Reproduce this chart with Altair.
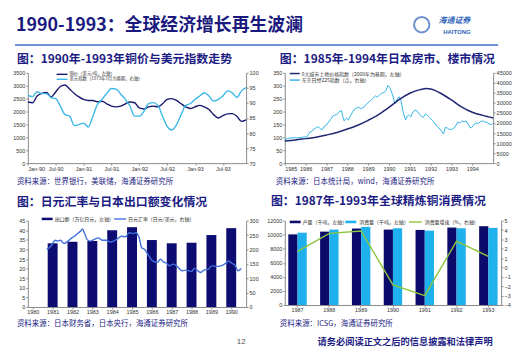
import json
import altair as alt
import pandas as pd

NAVY = "#1c1c84"
CJK = "Noto Sans CJK SC"
AXF = "Liberation Sans"

# ---------------- page texts ----------------
header_title = "1990-1993：全球经济增长再生波澜"
logo_cn = "海通证券"
logo_en = "HAITONG"
page_no = "12"
disclaimer = "请务必阅读正文之后的信息披露和法律声明"

# ---------------- panel 1 ----------------
p1_title = "图：1990年-1993年铜价与美元指数走势"
p1_source = "资料来源：世界银行，美联储，海通证券研究所"
p1_series = ["铜价（美元/吨，左轴）", "美元指数（1973年3月为基期，右轴）"]
p1_ticks = ["Jan-90", "Jul-90", "Jan-91", "Jul-91", "Jan-92", "Jul-92", "Jan-93", "Jul-93"]
copper = [2370, 2340, 2600, 2700, 2740, 2570, 2760, 2970, 3030, 2870, 2700, 2570,
          2470, 2430, 2430, 2380, 2400, 2300, 2210, 2180, 2210, 2300, 2370, 2340,
          2140, 2100, 2180, 2210, 2180, 2300, 2470, 2500, 2430, 2300, 2180, 2120,
          2180, 2240, 2180, 2080, 1880, 1750, 1840, 1910, 1920, 1820, 1620, 1680]
dollar_index = [92.5, 92.1, 93.7, 93.1, 93.1, 91.8, 91.4, 88.9, 86.1, 85.6, 82.5, 82.8,
                83.3, 82.0, 85.6, 89.5, 91.2, 93.2, 94.8, 94.6, 92.9, 91.2, 88.9, 85.6,
                85.6, 87.2, 89.8, 90.1, 89.2, 85.6, 82.2, 81.0, 82.7, 86.1, 89.2, 89.8,
                91.2, 92.3, 93.4, 92.3, 90.6, 91.2, 92.3, 94.0, 93.4, 91.8, 94.0, 95.1]

# ---------------- panel 2 ----------------
p2_title = "图：1985年-1994年日本房市、楼市情况"
p2_source = "资料来源：日本统计局，wind，海通证券研究所"
p2_series = ["6大城市土地价格指数（2000年为基期，左轴）", "东京日经225指数（点，右轴）"]
land_year = [1985.0, 1985.5, 1986.0, 1986.5, 1987.0, 1987.5, 1988.0, 1988.5, 1989.0, 1989.5,
             1990.0, 1990.5, 1991.0, 1991.5, 1991.8, 1992.0, 1992.5, 1993.0, 1993.5, 1994.0,
             1994.5, 1995.0]
land_index = [86, 90, 95, 100, 109, 119, 132, 147, 166, 188,
              216, 247, 271, 285, 289, 287, 270, 245, 217, 197,
              185, 175]
nikkei_pts = [
    (1985.0, 11800), (1985.15, 12300), (1985.3, 12500), (1985.45, 12700), (1985.6, 12600),
    (1985.75, 12800), (1985.9, 13000), (1986.0, 13100), (1986.1, 13600), (1986.2, 15500),
    (1986.3, 15800), (1986.4, 17000), (1986.5, 17600), (1986.6, 18200), (1986.7, 17200),
    (1986.8, 16700), (1986.9, 18500), (1987.0, 18900), (1987.1, 20500), (1987.2, 21800),
    (1987.3, 23500), (1987.4, 24000), (1987.5, 24200), (1987.6, 25500), (1987.72, 26200),
    (1987.8, 22500), (1987.85, 21000), (1987.95, 22500), (1988.05, 21500), (1988.15, 23500),
    (1988.25, 25500), (1988.35, 27000), (1988.45, 27500), (1988.55, 27800), (1988.65, 27200),
    (1988.75, 27600), (1988.85, 28500), (1988.95, 29800), (1989.05, 30500), (1989.15, 31500),
    (1989.25, 32500), (1989.35, 33500), (1989.45, 33000), (1989.55, 34000), (1989.65, 34800),
    (1989.75, 35200), (1989.85, 36000), (1989.95, 38700), (1990.05, 37500), (1990.12, 35500),
    (1990.2, 33000), (1990.28, 29500), (1990.35, 30500), (1990.42, 32500), (1990.5, 33000),
    (1990.58, 31000), (1990.65, 27000), (1990.72, 24000), (1990.8, 21500), (1990.88, 23500),
    (1990.95, 24000), (1991.05, 23000), (1991.15, 25500), (1991.25, 26500), (1991.35, 26000),
    (1991.45, 24500), (1991.55, 23500), (1991.65, 22800), (1991.75, 24500), (1991.85, 23800),
    (1991.95, 22800), (1992.05, 21500), (1992.15, 20500), (1992.25, 19000), (1992.35, 17800),
    (1992.45, 17000), (1992.55, 15500), (1992.62, 14600), (1992.7, 17800), (1992.8, 17500),
    (1992.9, 16800), (1993.0, 16800), (1993.1, 17200), (1993.2, 18500), (1993.3, 20500),
    (1993.4, 20000), (1993.5, 21000), (1993.6, 20500), (1993.7, 21000), (1993.8, 19500),
    (1993.9, 17500), (1994.0, 18000), (1994.1, 19500), (1994.2, 20000), (1994.3, 19800),
    (1994.4, 20800), (1994.5, 21000), (1994.6, 20500), (1994.7, 20300), (1994.8, 19600),
    (1994.9, 19200), (1994.98, 19800)]
nikkei_year = [p[0] for p in nikkei_pts]
nikkei_value = [p[1] for p in nikkei_pts]

# ---------------- panel 3 ----------------
p3_title = "图：日元汇率与日本出口额变化情况"
p3_source = "资料来源：日本财务省，日本央行，海通证券研究所"
p3_series = ["出口额（万亿日元，左轴）", "日元汇率（日元/美元，右轴）"]
export_year = [1981, 1982, 1983, 1984, 1985, 1986, 1987, 1988, 1989, 1990]
exports = [33.2, 34.0, 34.4, 40.0, 41.6, 34.9, 33.2, 33.5, 37.5, 41.1]
yen_pts = [
    (1980.7, 200), (1980.9, 210), (1981.13, 232), (1981.25, 229), (1981.4, 232), (1981.57, 221),
    (1981.72, 226), (1981.96, 240), (1982.1, 246), (1982.2, 252), (1982.4, 263), (1982.5, 271),
    (1982.6, 258), (1982.73, 235), (1982.9, 229), (1983.1, 235), (1983.3, 240), (1983.5, 232),
    (1983.7, 232), (1983.9, 226), (1984.07, 229), (1984.26, 237), (1984.47, 246), (1984.66, 244),
    (1984.86, 258), (1985.05, 255), (1985.2, 258), (1985.35, 243), (1985.49, 206), (1985.64, 200),
    (1985.8, 183), (1986.03, 160), (1986.27, 155), (1986.43, 166), (1986.58, 157), (1986.74, 152),
    (1986.9, 143), (1987.05, 149), (1987.21, 145), (1987.37, 134), (1987.52, 126), (1987.76, 128),
    (1987.99, 123), (1988.15, 134), (1988.31, 126), (1988.46, 120), (1988.62, 128), (1988.86, 132),
    (1989.01, 143), (1989.25, 141), (1989.48, 143), (1989.72, 152), (1989.87, 160), (1990.03, 152),
    (1990.19, 145), (1990.34, 126), (1990.5, 134)]
yen_year = [p[0] for p in yen_pts]
yen_rate = [p[1] for p in yen_pts]

# ---------------- panel 4 ----------------
p4_title = "图：1987年-1993年全球精炼铜消费情况"
p4_source = "资料来源：ICSG，海通证券研究所"
p4_series = ["产量（千吨，左轴）", "消费量（千吨，左轴）", "消费量增速（%，右轴）"]
years4 = ["1987", "1988", "1989", "1990", "1991", "1992", "1993"]
production = [10050, 10440, 10880, 10730, 10680, 11020, 11210]
consumption = [10290, 10730, 11120, 10920, 10580, 10920, 10970]
growth = [1.72, 3.65, 3.9, -1.86, -3.0, 2.81, 1.18]


# ---------------- helpers for decorations ----------------
def txt(s, x, y, size, color=NAVY, weight="normal", align="left", font=CJK, style="normal"):
    return alt.Chart(pd.DataFrame({"t": [s]})).mark_text(
        align=align, baseline="middle", fontSize=size, font=font,
        fontWeight=weight, color=color, fontStyle=style
    ).encode(text="t:N", x=alt.value(x), y=alt.value(y))


def hline(x1, x2, y, color, width):
    return alt.Chart(pd.DataFrame({"a": [0]})).mark_rule(color=color, strokeWidth=width).encode(
        x=alt.value(x1), x2=alt.value(x2), y=alt.value(y))


def box(x1, x2, y1, y2, color, opacity=1.0):
    return alt.Chart(pd.DataFrame({"a": [0]})).mark_rect(color=color, opacity=opacity).encode(
        x=alt.value(x1), x2=alt.value(x2), y=alt.value(y1), y2=alt.value(y2))


LEG = 5
LEGC = "#333333"

# ---------------- panel 1 chart ----------------
df1 = pd.DataFrame({"m": list(range(len(copper))), "copper": copper, "dollar": dollar_index})
x1 = alt.X("m:Q", scale=alt.Scale(domain=[0, 47], nice=False),
           axis=alt.Axis(values=[0, 6, 12, 18, 24, 30, 36, 42],
                         labelExpr=json.dumps(p1_ticks) + "[datum.value / 6]"))
c1a = alt.Chart(df1).mark_line(color="#17176f", strokeWidth=1.4, interpolate="monotone").encode(
    x=x1,
    y=alt.Y("copper:Q", scale=alt.Scale(domain=[0, 3500], nice=False),
            axis=alt.Axis(values=list(range(0, 3501, 500)), orient="left", format="d")))
c1b = alt.Chart(df1).mark_line(color="#3cb8e6", strokeWidth=1.4, interpolate="monotone").encode(
    x=x1,
    y=alt.Y("dollar:Q", scale=alt.Scale(domain=[70, 100], nice=False),
            axis=alt.Axis(values=list(range(70, 101, 5)), orient="right", format="d")))
p1 = alt.layer(
    c1a, c1b,
    hline(29, 40, 1.5, "#17176f", 1.4), txt(p1_series[0], 42, 1.5, 4.4, LEGC),
    hline(29, 40, 6.5, "#3cb8e6", 1.4), txt(p1_series[1], 42, 6.5, 4.4, LEGC),
    txt(p1_title, -11, -14, 12, NAVY, "bold"),
    txt(p1_source, -11, 110, 7.5, NAVY),
    # page header
    txt(header_title, -12, -47, 18, "#1a1a7e", "bold"),
    hline(-13, 474, -28, "#3a6fc4", 1.5),
    alt.Chart(pd.DataFrame({"a": [0]})).mark_point(shape="circle", size=240, filled=False,
                                                   color="#2f63b8", strokeWidth=2).encode(
        x=alt.value(397), y=alt.value(-48.5)),
    txt(logo_cn, 414, -52, 8, "#2f63b8", "bold", style="italic"),
    txt(logo_en, 432.5, -41, 6, "#2f63b8", "bold", align="center", font=AXF),
    box(-20, -19, -64, -63, "white", 0.0),
).resolve_scale(y="independent").properties(width=220, height=91)

# ---------------- panel 2 chart ----------------
df2a = pd.DataFrame({"year": land_year, "land": land_index})
df2b = pd.DataFrame({"year": nikkei_year, "nikkei": nikkei_value})
x2 = alt.X("year:Q", scale=alt.Scale(domain=[1985, 1995], nice=False),
           axis=alt.Axis(values=list(range(1985, 1995)), format="d"))
c2a = alt.Chart(df2a).mark_line(color="#1f2670", strokeWidth=1.5, interpolate="monotone").encode(
    x=x2,
    y=alt.Y("land:Q", scale=alt.Scale(domain=[0, 350], nice=False),
            axis=alt.Axis(values=list(range(0, 351, 50)), orient="left", format="d")))
c2b = alt.Chart(df2b).mark_line(color="#35b5e8", strokeWidth=1.0).encode(
    x=x2,
    y=alt.Y("nikkei:Q", scale=alt.Scale(domain=[0, 45000], nice=False),
            axis=alt.Axis(values=list(range(0, 45001, 5000)), orient="right", format="d")))
p2 = alt.layer(
    c2b, c2a,
    hline(5, 15, 0.7, "#1f2670", 1.5), txt(p2_series[0], 17, 0.7, LEG, LEGC),
    hline(5, 15, 7.3, "#35b5e8", 1.5), txt(p2_series[1], 17, 7.3, LEG, LEGC),
    txt(p2_title, -5, -14, 12, NAVY, "bold"),
    txt(p2_source, -9, 110, 7.5, NAVY),
).resolve_scale(y="independent").properties(width=210, height=91)

# ---------------- panel 3 chart ----------------
df3a = pd.DataFrame({"year": export_year, "exports": exports})
df3b = pd.DataFrame({"year": yen_year, "yen": yen_rate})
x3 = alt.X("year:Q", scale=alt.Scale(domain=[1980, 1990.5], nice=False),
           axis=alt.Axis(values=list(range(1980, 1991)), format="d"))
c3a = alt.Chart(df3a).mark_bar(size=10, color="#0c0c72").encode(
    x=x3,
    y=alt.Y("exports:Q", scale=alt.Scale(domain=[0, 45], nice=False),
            axis=alt.Axis(values=list(range(0, 46, 5)), orient="left", format="d")))
c3b = alt.Chart(df3b).mark_line(color="#3f6fdc", strokeWidth=1.4, interpolate="monotone").encode(
    x=x3,
    y=alt.Y("yen:Q", scale=alt.Scale(domain=[0, 300], nice=False),
            axis=alt.Axis(values=list(range(0, 301, 50)), orient="right", format="d")))
p3 = alt.layer(
    c3a, c3b,
    box(14, 25, -3, -0.5, "#0c0c72"), txt(p3_series[0], 27, -1.7, LEG, LEGC),
    hline(87, 99, -1.7, "#3f6fdc", 1.4), txt(p3_series[1], 101, -1.7, LEG, LEGC),
    txt(p3_title, -11, -19, 12, NAVY, "bold"),
    txt(p3_source, -11, 104, 7.5, NAVY),
    # page footer
    txt(page_no, 215, 122, 8, "#555555", font=AXF, align="center"),
    txt(disclaimer, 292, 122, 9.3, NAVY, "bold"),
).resolve_scale(y="independent").properties(width=220, height=87)

# ---------------- panel 4 chart ----------------
df4a = pd.DataFrame({
    "year": years4 * 2,
    "series": [p4_series[0]] * len(years4) + [p4_series[1]] * len(years4),
    "value": production + consumption,
})
df4b = pd.DataFrame({"year": years4, "growth": growth})
x4 = alt.X("year:N", sort=years4, scale=alt.Scale(paddingInner=0.42, paddingOuter=0.11),
           axis=alt.Axis(labelAngle=0))
c4a = alt.Chart(df4a).mark_bar().encode(
    x=x4,
    xOffset=alt.XOffset("series:N", sort=p4_series[:2], scale=alt.Scale(paddingInner=0, paddingOuter=0)),
    y=alt.Y("value:Q", scale=alt.Scale(domain=[0, 12000], nice=False),
            axis=alt.Axis(values=list(range(0, 12001, 2000)), orient="left", format="d")),
    color=alt.Color("series:N", scale=alt.Scale(domain=p4_series[:2], range=["#0b0b6b", "#1fb0ee"]),
                    legend=None))
c4b = alt.Chart(df4b).mark_line(color="#8cc63e", strokeWidth=1.4).encode(
    x=x4,
    y=alt.Y("growth:Q", scale=alt.Scale(domain=[-4, 5], nice=False),
            axis=alt.Axis(values=list(range(-4, 6)), orient="right", format="d")))
p4 = alt.layer(
    c4a, c4b,
    box(5, 16, 0, 2.6, "#0b0b6b"), txt(p4_series[0], 18, 1.3, LEG, LEGC),
    box(61, 72, 0, 2.6, "#1fb0ee"), txt(p4_series[1], 75, 1.3, LEG, LEGC),
    hline(125, 138, 1.3, "#8cc63e", 1.4), txt(p4_series[2], 141, 1.3, LEG, LEGC),
    txt(p4_title, -14, -20, 12, NAVY, "bold"),
    txt(p4_source, -5, 104, 7.5, NAVY),
).resolve_scale(y="independent").properties(width=218, height=85)

chart = alt.concat(
    p1, p2, p3, p4, columns=2, spacing={"row": 58, "column": 39}, bounds="flush"
).properties(
    padding=0, background="white"
).configure_view(stroke=None).configure_axis(
    labelFont=AXF, labelFontSize=5.5, labelColor="#333333", domainColor="#8a8a8a",
    tickColor="#8a8a8a", tickSize=2, grid=False, title=None, labelPadding=1
)

chart.save("out.html", embed_options={"renderer": "svg", "actions": False})
